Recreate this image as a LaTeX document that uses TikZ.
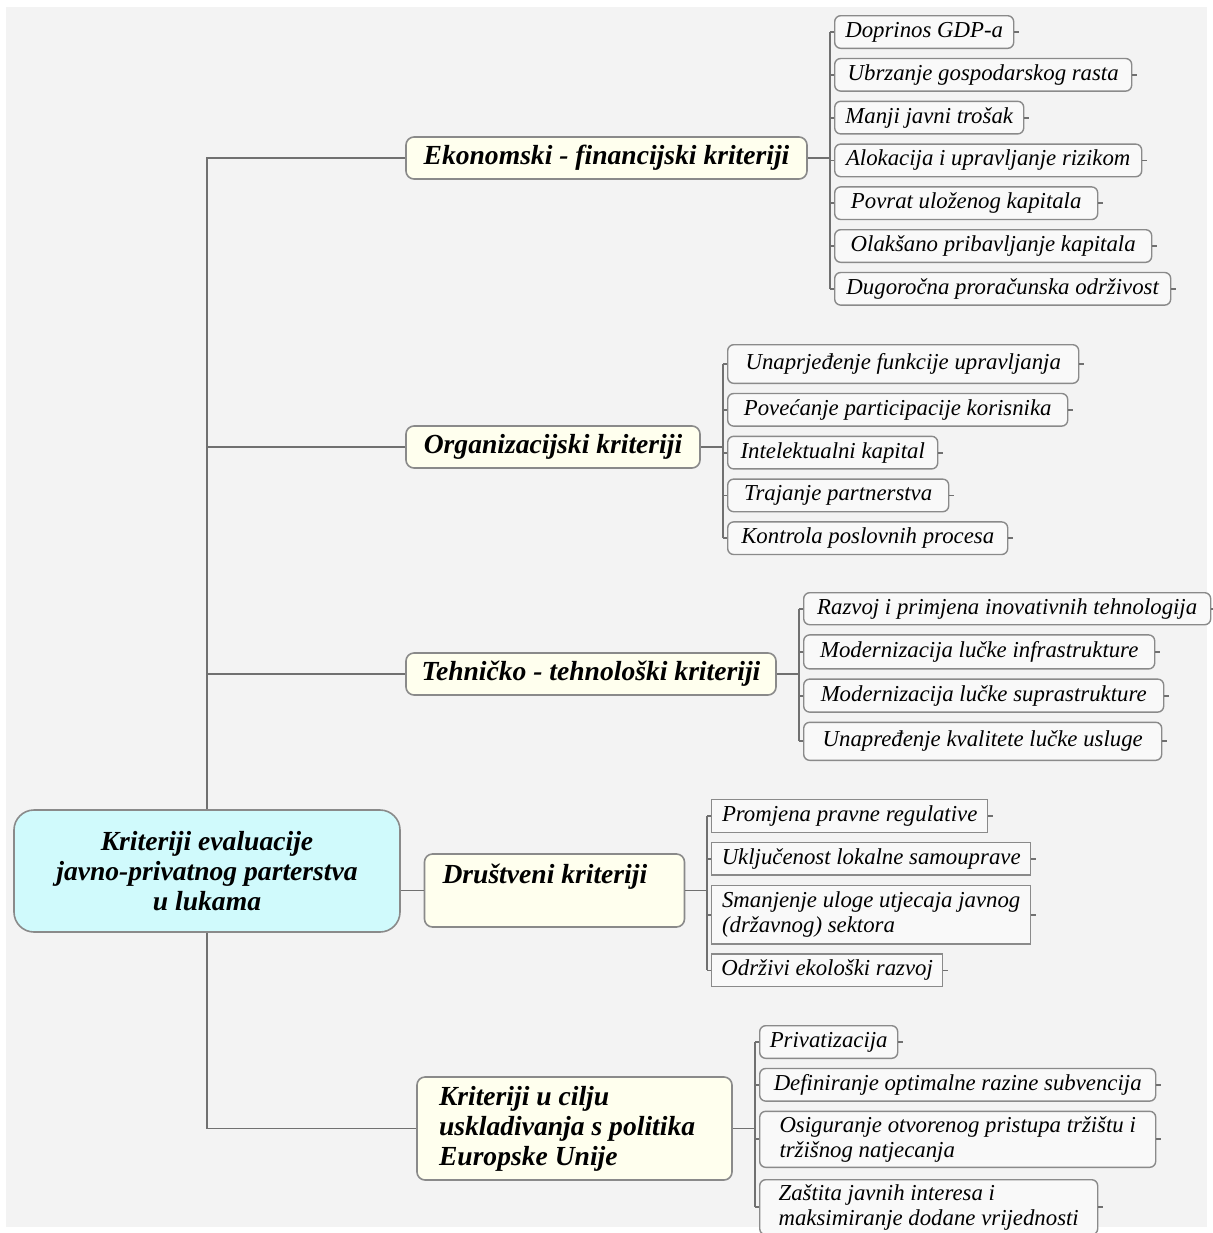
\documentclass[tikz,border=0pt]{standalone}
\usepackage{fontspec}
\setmainfont{Liberation Serif}
\usetikzlibrary{positioning}

\definecolor{bggray}{RGB}{243,243,243}
\definecolor{linegray}{RGB}{112,112,112}
\definecolor{boxgray}{RGB}{138,138,138}
\definecolor{rootfill}{RGB}{208,250,252}
\definecolor{catfill}{RGB}{255,255,238}
\definecolor{leaffill}{RGB}{249,249,249}
\newcommand\leaffont{\fontsize{11.4}{12.5}\selectfont\itshape}
\newcommand\catfont{\fontsize{13.8}{15}\selectfont\bfseries\itshape}

\begin{document}
\begin{tikzpicture}[
    x=0.5pt, y=-0.5pt,
    link/.style={draw=linegray, line width=0.9pt},
    rootbox/.style={draw=boxgray, line width=0.8pt, fill=rootfill, rounded corners=10pt, font=\catfont, align=center, minimum width=193pt, minimum height=61pt},
    catbox/.style={draw=boxgray, line width=0.8pt, fill=catfill, rounded corners=4pt, font=\catfont, align=flush left, inner xsep=6.5pt, minimum height=21pt},
    leaf/.style={draw=boxgray, line width=0.7pt, fill=leaffill, rounded corners=3pt, font=\leaffont, align=left, inner xsep=4pt, inner ysep=2pt, minimum height=16.3pt},
    sqleaf/.style={leaf, sharp corners},
    nextleaf/.style={below right=4.4pt and 0pt of #1.south west}
]

% Background
\useasboundingbox (0,0) rectangle (1212,1233);
\fill[white] (0,0) rectangle (1212,1233);
\fill[bggray] (6,7) rectangle (1207,1227);

% Root
\node[rootbox] (root) at (207,871) {Kriteriji evaluacije\\javno-privatnog parterstva\\u lukama};

% Categories
\node[catbox, minimum width=200.5pt] (eko) at (606.5,158) {Ekonomski - financijski kriteriji};
\node[catbox, minimum width=147pt] (org) at (553,447) {Organizacijski kriteriji};
\node[catbox, minimum width=185pt] (teh) at (591,674) {Tehničko - tehnološki kriteriji};
\node[catbox, text width=112pt, inner xsep=9pt, inner ysep=4pt, text height=10.5pt, text depth=18pt] (dru) at (554.5,890.5) {Društveni kriteriji};
\node[catbox, text width=135.5pt, inner xsep=11pt, minimum height=51.5pt] (eu) at (574.5,1128.5) {Kriteriji u cilju\\uskladivanja s politika\\Europske Unije};

% Ekonomski leaves
\node[leaf, anchor=north west, minimum width=89.5pt] (e1) at (834,15) {Doprinos GDP-a};
\node[leaf, nextleaf=e1, minimum width=148.5pt] (e2) {Ubrzanje gospodarskog rasta};
\node[leaf, nextleaf=e2, minimum width=94.5pt] (e3) {Manji javni trošak};
\node[leaf, nextleaf=e3, minimum width=153.5pt] (e4) {Alokacija i upravljanje rizikom};
\node[leaf, nextleaf=e4, minimum width=131.5pt] (e5) {Povrat uloženog kapitala};
\node[leaf, nextleaf=e5, minimum width=158.5pt] (e6) {Olakšano pribavljanje kapitala};
\node[leaf, nextleaf=e6, minimum width=168pt] (e7) {Dugoročna proračunska održivost};

% Organizacijski leaves
\node[leaf, anchor=north west, minimum width=175.5pt, minimum height=19.3pt] (o1) at (727,344) {Unaprjeđenje funkcije upravljanja};
\node[leaf, nextleaf=o1, minimum width=170pt] (o2) {Povećanje participacije korisnika};
\node[leaf, nextleaf=o2, minimum width=105pt] (o3) {Intelektualni kapital};
\node[leaf, nextleaf=o3, minimum width=110.5pt] (o4) {Trajanje partnerstva};
\node[leaf, nextleaf=o4, minimum width=140pt] (o5) {Kontrola poslovnih procesa};

% Tehnicko leaves
\node[leaf, anchor=north west, minimum width=203.5pt, minimum height=16pt] (t1) at (803,592) {Razvoj i primjena inovativnih tehnologija};
\node[leaf, nextleaf=t1, minimum width=175.5pt, minimum height=17pt] (t2) {Modernizacija lučke infrastrukture};
\node[leaf, nextleaf=t2, minimum width=180pt, minimum height=16.5pt] (t3) {Modernizacija lučke suprastrukture};
\node[leaf, nextleaf=t3, minimum width=179pt, minimum height=19pt] (t4) {Unapređenje kvalitete lučke usluge};

% Drustveni leaves
\node[sqleaf, anchor=north west, minimum width=138pt] (d1) at (711,799) {Promjena pravne regulative};
\node[sqleaf, nextleaf=d1, minimum width=159.5pt] (d2) {Uključenost lokalne samouprave};
\node[sqleaf, nextleaf=d2, minimum width=159.5pt, minimum height=29.3pt] (d3) {Smanjenje uloge utjecaja javnog\\(državnog) sektora};
\node[sqleaf, nextleaf=d3, minimum width=115.5pt] (d4) {Održivi ekološki razvoj};

% EU leaves
\node[leaf, anchor=north west, minimum width=69pt] (u1) at (759,1025) {Privatizacija};
\node[leaf, nextleaf=u1, minimum width=198pt] (u2) {Definiranje optimalne razine subvencija};
\node[leaf, nextleaf=u2, minimum width=198pt, minimum height=28pt] (u3) {Osiguranje otvorenog pristupa tržištu i\\tržišnog natjecanja};
\node[leaf, below right=5.5pt and 0pt of u3.south west, minimum width=169pt, minimum height=27.5pt] (u4) {Zaštita javnih interesa i\\maksimiranje dodane vrijednosti};

% Trunk
\draw[link] (root.north) |- (eko.west);
\draw[link] (root.north) |- (org.west);
\draw[link] (root.north) |- (teh.west);
\draw[link] (root.east |- dru.west) -- (dru.west);
\draw[link] (root.south) |- (eu.west);

% Brackets and ticks
\foreach \c/\p/\n in {eko/e/7, org/o/5, teh/t/4, dru/d/4, eu/u/4} {
  \coordinate (\c-top) at ([xshift=-2pt]\p1.west);
  \coordinate (\c-bot) at ([xshift=-2pt]\p\n.west);
  \draw[link] (\c-top) -- (\c-bot);
  \draw[link] (\c.east) -- (\c.east -| \c-top);
  \foreach \i in {1,...,\n} {
    \draw[link] ([xshift=-2pt]\p\i.west) -- (\p\i.west);
    \draw[link] (\p\i.east) -- ++(2.5pt,0);
  }
}

\end{tikzpicture}
\end{document}
